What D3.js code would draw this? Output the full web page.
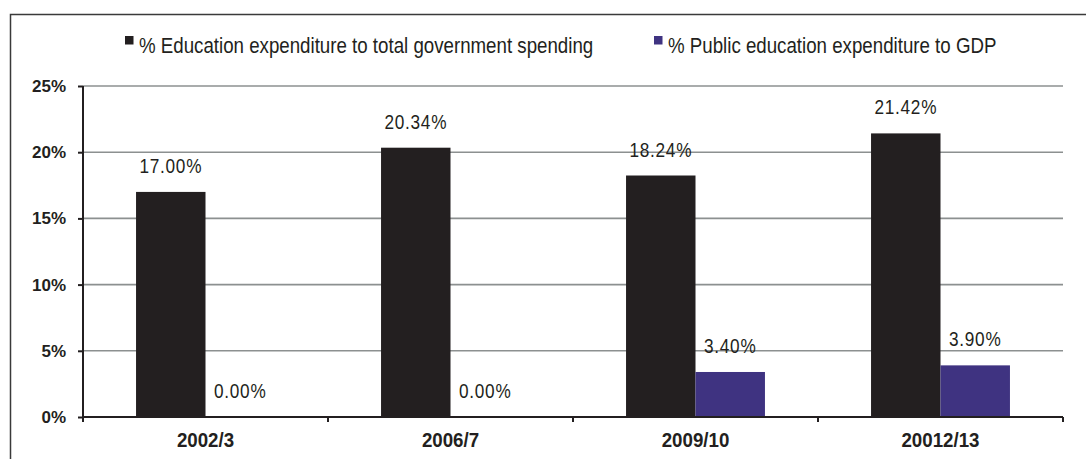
<!DOCTYPE html>
<html>
<head>
<meta charset="utf-8">
<script src="https://cdn.jsdelivr.net/npm/d3@7"></script>
<style>
  html, body { margin: 0; padding: 0; background: #fff; }
  svg { display: block; }
  text { font-family: "Liberation Sans", Arial, sans-serif; }
</style>
</head>
<body>
<svg id="chart" width="1086" height="459"></svg>
<script>
// Fiscal years and the two education spending indicators (percent)
const categories = ["2002/3", "2006/7", "2009/10", "20012/13"];
const shareOfGovSpending = [17.00, 20.34, 18.24, 21.42];
const shareOfGdp = [0.00, 0.00, 3.40, 3.90];
const seriesNames = [
  "% Education expenditure to total government spending",
  "% Public education expenditure to GDP"
];
const yTicks = [0, 5, 10, 15, 20, 25];

const colors = ["#231f20", "#3f3381"];
const textColor = "#231f20";
// condensed look: Liberation Sans squeezed horizontally
const NARROW = 0.82;
const LEGEND_NARROW = 0.87;
const CATEGORY_NARROW = 0.96;

const svg = d3.select("#chart");

// outer frame (continues past the right and bottom edges)
svg.append("rect")
  .attr("x", 10.5).attr("y", 14.5)
  .attr("width", 1100).attr("height", 460)
  .attr("fill", "none").attr("stroke", "#3a3a3a").attr("stroke-width", 1.5);

const plot = { left: 83, right: 1063, top: 86, bottom: 417 };

const y = d3.scaleLinear().domain([0, 25]).range([plot.bottom, plot.top]);

const x0 = d3.scaleBand()
  .domain(categories)
  .range([plot.left, plot.right])
  .paddingInner(0.433)
  .paddingOuter(0.433 / 2);

const x1 = d3.scaleBand()
  .domain([0, 1])
  .range([0, x0.bandwidth()]);

const series = [shareOfGovSpending, shareOfGdp];

// places a horizontally condensed text at (x, y)
function narrowText(sel, xf, yf, squeeze = NARROW) {
  const g = sel.append("g")
    .attr("transform", (d, i) => `translate(${xf(d, i)},${yf(d, i)}) scale(${squeeze},1)`);
  return g.append("text");
}

// horizontal gridlines
svg.append("g")
  .selectAll("line")
  .data(yTicks.filter(d => d > 0))
  .join("line")
  .attr("x1", plot.left).attr("x2", plot.right)
  .attr("y1", d => y(d)).attr("y2", d => y(d))
  .attr("stroke", "#8c9090").attr("stroke-width", 1.6);

// bars
const groups = svg.append("g")
  .selectAll("g")
  .data(categories)
  .join("g")
  .attr("transform", d => `translate(${x0(d)},0)`);

groups.selectAll("rect")
  .data((d, i) => series.map((s, k) => ({ k, v: s[i] })))
  .join("rect")
  .attr("x", d => x1(d.k))
  .attr("width", x1.bandwidth())
  .attr("y", d => y(d.v))
  .attr("height", d => y(0) - y(d.v))
  .attr("fill", d => colors[d.k]);

// value labels
const labelSel = groups.selectAll("g.lbl")
  .data((d, i) => series.map((s, k) => ({ k, v: s[i] })))
  .join("g")
  .attr("class", "lbl");
narrowText(labelSel, d => x1(d.k) + x1.bandwidth() / 2, d => y(d.v) - 19)
  .attr("text-anchor", "middle")
  .attr("font-size", 21)
  .attr("letter-spacing", 0.9)
  .attr("fill", textColor)
  .text(d => d.v.toFixed(2) + "%");

// y axis
const yAxis = svg.append("g")
  .attr("transform", `translate(${plot.left},0)`)
  .call(d3.axisLeft(y).tickValues(yTicks).tickSize(5).tickPadding(12)
    .tickFormat(d => d + "%"));
yAxis.select(".domain").attr("stroke", "#231f20").attr("stroke-width", 2)
  .attr("d", `M0,${plot.top}V${plot.bottom}`);
yAxis.selectAll(".tick line").attr("stroke", "#231f20").attr("stroke-width", 2);
yAxis.selectAll(".tick text")
  .attr("font-family", "'Liberation Sans', Arial, sans-serif")
  .attr("font-weight", "bold")
  .attr("font-size", 17)
  .attr("fill", textColor);

// x axis with ticks on category boundaries
const xAxisG = svg.append("g").attr("transform", `translate(0,${plot.bottom})`);
xAxisG.append("line")
  .attr("x1", plot.left).attr("x2", plot.right)
  .attr("stroke", "#231f20").attr("stroke-width", 2);
const boundaries = [plot.left].concat(categories.map(c => x0(c) - x0.step() * x0.paddingInner() / 2 + x0.step()));
xAxisG.selectAll("line.b")
  .data(boundaries)
  .join("line")
  .attr("class", "b")
  .attr("x1", d => d).attr("x2", d => d)
  .attr("y1", 0).attr("y2", 5)
  .attr("stroke", "#231f20").attr("stroke-width", 2);
const catSel = xAxisG.selectAll("g.cat")
  .data(categories)
  .join("g")
  .attr("class", "cat");
narrowText(catSel, d => x0(d) + x0.bandwidth() / 2, () => 30, CATEGORY_NARROW)
  .attr("text-anchor", "middle")
  .attr("font-weight", "bold")
  .attr("font-size", 19.5)
  .attr("fill", textColor)
  .text(d => d);

// legend
const legendX = [125, 654];
const legend = svg.append("g")
  .selectAll("g")
  .data(seriesNames)
  .join("g")
  .attr("transform", (d, i) => `translate(${legendX[i]},36)`);
legend.append("rect")
  .attr("width", 8.5).attr("height", 8.5)
  .attr("fill", (d, i) => colors[i]);
narrowText(legend, () => 14, () => 17, LEGEND_NARROW)
  .attr("font-size", 21.5)
  .attr("fill", textColor)
  .text(d => d);
</script>
</body>
</html>
